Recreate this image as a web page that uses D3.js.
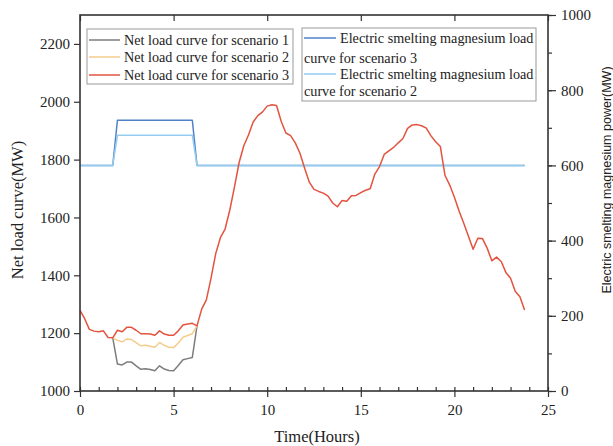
<!DOCTYPE html>
<html><head><meta charset="utf-8">
<script src="https://cdn.jsdelivr.net/npm/d3@7"></script>
<style>body{margin:0;background:#fff} svg{display:block}</style>
</head><body><svg id="c" width="613" height="446"></svg>
<script>
// ---- data ----
const hours = d3.range(0, 24, 0.25); // 15-min time steps, 0 .. 23.75
const netLoad3 = [
  1279,1250,1213,1207,1205,1208,1185,1184,
  1210,1205,1220,1220,1210,1198,1198,1197,
  1193,1208,1197,1193,1193,1208,1228,1232,
  1234,1225,1283,1315,1390,1475,1530,1560,
  1625,1705,1790,1848,1885,1930,1952,1965,
  1985,1990,1987,1932,1892,1883,1858,1822,
  1770,1722,1697,1690,1684,1674,1650,1637,
  1659,1656,1675,1676,1686,1694,1699,1750,
  1776,1818,1830,1842,1858,1873,1908,1920,
  1921,1917,1909,1882,1862,1845,1745,1712,
  1670,1622,1580,1535,1490,1528,1527,1494,
  1450,1463,1448,1410,1390,1345,1326,1280
];
const shiftHours = [1.75,2,2.25,2.5,2.75,3,3.25,3.5,3.75,4,4.25,4.5,4.75,5,5.25,5.5,5.75,6,6.25];
const netLoad1 = [1184,1093,1090,1100,1100,1087,1075,1077,1074,1070,1087,1076,1071,1070,1088,1108,1112,1116,1225];
const netLoad2 = [1184,1175,1170,1180,1178,1167,1156,1158,1155,1151,1168,1158,1151,1150,1166,1186,1192,1198,1225];
const mgHours = [0,1.75,2,6,6.25,23.75];
const mgLoad3 = [600,600,720,720,600,600];
const mgLoad2 = [600,600,680,680,600,600];
const xTicks = [0,5,10,15,20,25];
const xMinorTicks = [0,1,2,3,4,5,6,7,8,9,10,11,12,13,14,15,16,17,18,19,20,21,22,23,24,25];
const yLeftTicks = [1000,1200,1400,1600,1800,2000,2200];
const yRightTicks = [0,200,400,600,800,1000];
const yRightMinor = [0,100,200,300,400,500,600,700,800,900,1000];

const colors = {s1:"#7d7d7d", s2:"#f4cd8c", s3:"#e3533f", m3:"#4f82c9", m2:"#95cdef"};

// ---- chart ----
const svg = d3.select("#c");
const L=80,R=548,T=15,B=391;
const x = d3.scaleLinear().domain([0,25]).range([L,R]);
const yL = d3.scaleLinear().domain([1000,2300]).range([B,T]);
const yR = d3.scaleLinear().domain([0,1000]).range([B,T]);
const serif = "'Liberation Serif','Times New Roman',serif";
const sans = "'Liberation Sans',Arial,sans-serif";
const tc = "#222";

function styleAxis(g){
  g.select(".domain").remove();
  g.selectAll("line").attr("stroke","#333").attr("stroke-width",1.2);
  g.selectAll("text").style("font-family",serif).style("font-size","15px").attr("fill",tc);
}
// bottom minor (inward)
svg.append("g").attr("transform",`translate(0,${B})`)
  .call(d3.axisBottom(x).tickValues(xMinorTicks).tickSize(-4).tickFormat(""))
  .call(styleAxis);
// bottom major (outward)
svg.append("g").attr("transform",`translate(0,${B})`)
  .call(d3.axisBottom(x).tickValues(xTicks).tickSize(6).tickPadding(7).tickFormat(d3.format("d")))
  .call(styleAxis);
// top major (inward)
svg.append("g").attr("transform",`translate(0,${T})`)
  .call(d3.axisTop(x).tickValues(xTicks).tickSize(-6).tickFormat(""))
  .call(styleAxis);
// left
svg.append("g").attr("transform",`translate(${L},0)`)
  .call(d3.axisLeft(yL).tickValues(yLeftTicks).tickSize(6).tickPadding(4).tickFormat(d3.format("d")))
  .call(styleAxis);
// right minor (outward, short)
svg.append("g").attr("transform",`translate(${R},0)`)
  .call(d3.axisRight(yR).tickValues(yRightMinor).tickSize(4).tickFormat(""))
  .call(styleAxis);
// right major (outward)
svg.append("g").attr("transform",`translate(${R},0)`)
  .call(d3.axisRight(yR).tickValues(yRightTicks).tickSize(8).tickPadding(5).tickFormat(d3.format("d")))
  .call(styleAxis);

// lines
const lineL = (xs, ys) => d3.line().x((d,i)=>x(xs[i])).y(d=>yL(d))(ys);
const lineR = (xs, ys) => d3.line().x((d,i)=>x(xs[i])).y(d=>yR(d))(ys);
const g = svg.append("g").attr("fill","none").attr("stroke-width",1.5).attr("stroke-linejoin","round");
g.append("path").attr("d",lineR(mgHours,mgLoad3)).attr("stroke",colors.m3);
g.append("path").attr("d",lineR(mgHours,mgLoad2)).attr("stroke",colors.m2);
g.append("path").attr("d",lineL(shiftHours,netLoad1)).attr("stroke",colors.s1);
g.append("path").attr("d",lineL(shiftHours,netLoad2)).attr("stroke",colors.s2);
g.append("path").attr("d",lineL(hours,netLoad3)).attr("stroke",colors.s3);

// frame
svg.append("rect").attr("x",L).attr("y",T).attr("width",R-L).attr("height",B-T)
  .attr("fill","none").attr("stroke","#333").attr("stroke-width",1.6);

// axis titles
svg.append("text").attr("transform","translate(23,210) rotate(-90)").attr("text-anchor","middle")
  .style("font-family",serif).style("font-size","16.5px").attr("fill",tc).text("Net load curve(MW)");
svg.append("text").attr("transform","translate(611,180) rotate(-90)").attr("text-anchor","middle")
  .style("font-family",sans).style("font-size","12.5px").attr("fill",tc)
  .text("Electric smelting magnesium power(MW)");
svg.append("text").attr("x",317).attr("y",442).attr("text-anchor","middle")
  .style("font-family",serif).style("font-size","16.5px").attr("fill",tc).text("Time(Hours)");

// legend 1
const lg1 = svg.append("g");
lg1.append("rect").attr("x",87).attr("y",29).attr("width",206).attr("height",55)
  .attr("fill","#fff").attr("stroke","#999").attr("stroke-width",1);
const leg1 = [["Net load curve for scenario 1",colors.s1,40],["Net load curve for scenario 2",colors.s2,57],["Net load curve for scenario 3",colors.s3,75]];
leg1.forEach(([t,c,yy])=>{
  lg1.append("line").attr("x1",89).attr("x2",120).attr("y1",yy).attr("y2",yy).attr("stroke",c).attr("stroke-width",1.5);
  lg1.append("text").attr("x",124).attr("y",yy+4.8).style("font-family",serif).style("font-size","14.2px").attr("fill",tc).text(t);
});
// legend 2
const lg2 = svg.append("g");
lg2.append("rect").attr("x",302).attr("y",28).attr("width",234).attr("height",73)
  .attr("fill","#fff").attr("stroke","#999").attr("stroke-width",1);
const leg2 = [["Electric smelting magnesium load","curve for scenario 3",colors.m3,38,58],["Electric smelting magnesium load","curve for scenario 2",colors.m2,74,91]];
leg2.forEach(([t1,t2,c,y1,y2])=>{
  lg2.append("line").attr("x1",304).attr("x2",336).attr("y1",y1).attr("y2",y1).attr("stroke",c).attr("stroke-width",1.5);
  lg2.append("text").attr("x",340).attr("y",y1+4.8).style("font-family",serif).style("font-size","14.2px").attr("fill",tc).text(t1);
  lg2.append("text").attr("x",304).attr("y",y2+4.8).style("font-family",serif).style("font-size","14.2px").attr("fill",tc).text(t2);
});
</script></body></html>
